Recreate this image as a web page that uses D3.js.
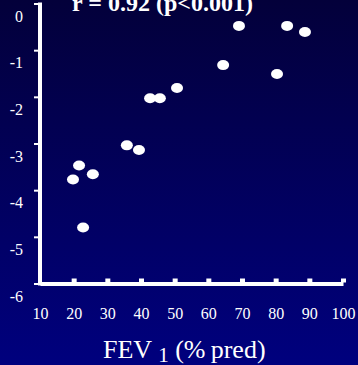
<!DOCTYPE html>
<html>
<head>
    <meta charset="utf-8">
    <style>
        html, body { margin: 0; padding: 0; background: #000050; }
        svg { display: block; }
        .axis text { fill: #fff; font-family: "Liberation Serif", "Times New Roman", serif; font-size: 16px; }
        .axis path, .axis line { stroke: #fff; }
    </style>
    <script src="https://cdn.jsdelivr.net/npm/d3@7"></script>
</head>
<body>
<div id="chart"></div>
<script>
    // FEV1 (% predicted) against the y measure
    var fev = [19.8, 21.6, 25.7, 22.8, 35.8, 39.4, 42.7, 45.6, 50.7, 64.4, 69.1, 80.4, 83.4, 88.7];
    var yvals = [-3.77, -3.47, -3.66, -4.80, -3.04, -3.14, -2.03, -2.03, -1.81, -1.32, -0.48, -1.51, -0.48, -0.61];
    var xTicks = [10, 20, 30, 40, 50, 60, 70, 80, 90, 100];
    var yTicks = [0, -1, -2, -3, -4, -5, -6];
    var yTickLabels = ["0", "-1", "-2", "-3", "-4", "-5", "-6"];
    var statText = "r = 0.92 (p<0.001)";

    var width = 358, height = 365;

    var svg = d3.select("#chart").append("svg")
        .attr("width", width)
        .attr("height", height);

    var grad = svg.append("defs").append("linearGradient")
        .attr("id", "bg")
        .attr("x1", 0).attr("y1", 0).attr("x2", 0).attr("y2", 1);
    grad.append("stop").attr("offset", "0%").attr("stop-color", "#03003a");
    grad.append("stop").attr("offset", "100%").attr("stop-color", "#00007e");

    svg.append("rect")
        .attr("width", width)
        .attr("height", height)
        .attr("fill", "url(#bg)");

    var x = d3.scaleLinear().domain([10, 100]).range([40, 343]);
    var y = d3.scaleLinear().domain([-6, 0]).range([283.5, 3.5]);

    // x axis: short square ticks pointing up
    var xAxis = svg.append("g")
        .attr("class", "axis")
        .attr("transform", "translate(0," + y(-6) + ")")
        .call(d3.axisBottom(x).tickValues(xTicks).tickSizeInner(-5).tickSizeOuter(0).tickPadding(24)
            .tickFormat(function (d) { return String(d); }));
    xAxis.select(".domain").attr("stroke-width", 4);
    xAxis.selectAll(".tick line")
        .attr("stroke-width", 5)
        .attr("y1", -1)
        .attr("display", function (d) { return d === 10 ? "none" : null; });

    // y axis: labels sit a bit below their ticks, as on the slide
    var yAxis = svg.append("g")
        .attr("class", "axis")
        .attr("transform", "translate(" + x(10) + ",0)")
        .call(d3.axisLeft(y).tickValues(yTicks).tickSize(6).tickSizeOuter(0).tickPadding(11)
            .tickFormat(function (d, i) { return yTickLabels[i]; }));
    yAxis.select(".domain").attr("stroke-width", 4);
    yAxis.selectAll(".tick line").attr("stroke-width", 2);
    yAxis.selectAll(".tick text").attr("dy", "1.1em");
    yAxis.select(".domain").attr("d", "M0," + (y(0) - 1) + "V" + (y(-6) + 2));

    svg.append("g")
        .selectAll("ellipse")
        .data(fev)
        .enter().append("ellipse")
        .attr("cx", function (d) { return x(d); })
        .attr("cy", function (d, i) { return y(yvals[i]); })
        .attr("rx", 6)
        .attr("ry", 5)
        .attr("fill", "#fff");

    svg.append("text")
        .attr("x", 72)
        .attr("y", 11)
        .attr("fill", "#fff")
        .style("font-family", "'Liberation Serif', 'Times New Roman', serif")
        .style("font-weight", "bold")
        .style("font-size", "24px")
        .text(statText);

    // x axis title with subscript
    var title = svg.append("text")
        .attr("x", 103)
        .attr("y", 358)
        .attr("fill", "#fff")
        .style("font-family", "'Liberation Serif', 'Times New Roman', serif")
        .style("font-size", "26px");
    title.append("tspan").text("FEV ");
    title.append("tspan").attr("dy", 4).style("font-size", "21px").text("1");
    title.append("tspan").attr("dy", -4).text(" (%\u2009pred)");
</script>
</body>
</html>
